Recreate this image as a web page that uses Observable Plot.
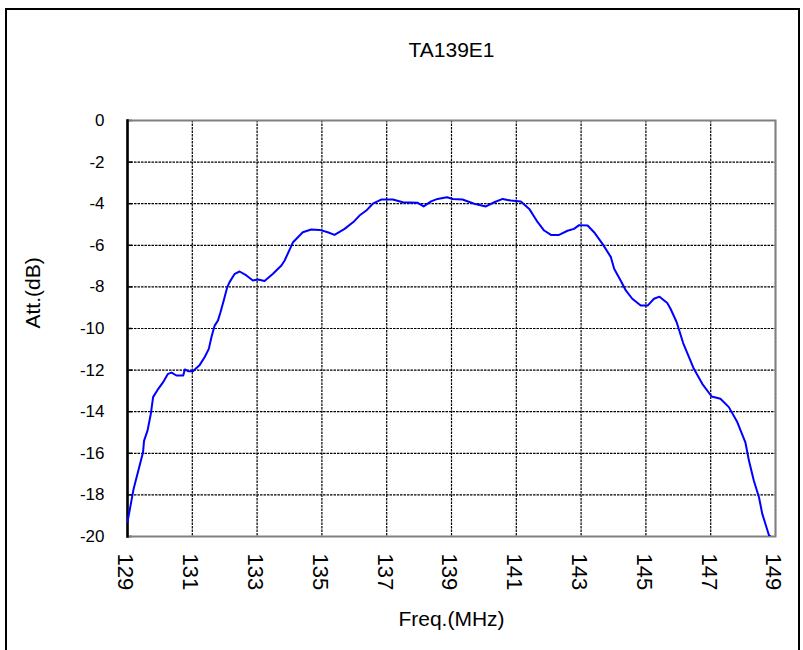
<!DOCTYPE html>
<html><head><meta charset="utf-8">
<script src="https://cdn.jsdelivr.net/npm/d3@7"></script>
<script src="https://cdn.jsdelivr.net/npm/@observablehq/plot@0.6"></script>
<style>
body{margin:0;background:#fff;}
#wrap{position:relative;width:803px;height:650px;overflow:hidden;font-family:"Liberation Sans",Arial,sans-serif;}
#border{position:absolute;left:5px;top:8px;width:795px;height:660px;border:2px solid #000;box-sizing:border-box;pointer-events:none;}
#wrap svg{position:absolute;left:0;top:0;}
</style></head><body><div id="wrap"><div id="border"></div></div>
<script>
const titleText = "TA139E1";
const xLabel = "Freq.(MHz)";
const yLabel = "Att.(dB)";
const xTicks = [129, 131, 133, 135, 137, 139, 141, 143, 145, 147, 149];
const yTicks = [0, -2, -4, -6, -8, -10, -12, -14, -16, -18, -20];
const freq = [129.00,129.19,129.48,129.51,129.62,129.72,129.79,129.95,130.10,130.25,130.36,130.51,130.72,130.77,130.87,131.02,131.23,131.38,131.51,131.59,131.69,131.79,131.87,131.97,132.08,132.15,132.31,132.46,132.67,132.87,133.03,133.23,133.49,133.75,133.85,134.11,134.41,134.67,134.93,135.18,135.39,135.70,136.00,136.16,136.37,136.57,136.83,137.19,137.50,137.96,138.14,138.37,138.57,138.86,139.04,139.34,139.70,140.06,140.32,140.58,140.83,141.14,141.40,141.66,141.86,142.07,142.32,142.58,142.78,142.94,143.20,143.40,143.66,143.92,144.02,144.22,144.38,144.58,144.84,145.06,145.25,145.42,145.66,145.76,145.95,146.15,146.48,146.74,147.03,147.30,147.56,147.82,148.07,148.18,148.33,148.49,148.59,148.80,148.85];
const att = [-19.3,-17.7,-15.95,-15.4,-14.9,-14.1,-13.3,-12.9,-12.58,-12.18,-12.12,-12.26,-12.26,-11.97,-12.05,-12.05,-11.75,-11.38,-10.98,-10.42,-9.86,-9.62,-9.22,-8.65,-8.01,-7.77,-7.37,-7.26,-7.45,-7.69,-7.64,-7.72,-7.37,-6.97,-6.73,-5.85,-5.37,-5.24,-5.26,-5.37,-5.5,-5.21,-4.84,-4.57,-4.33,-4.0,-3.8,-3.8,-3.93,-3.96,-4.13,-3.89,-3.77,-3.69,-3.77,-3.80,-4.0,-4.13,-3.93,-3.77,-3.85,-3.89,-4.25,-4.89,-5.29,-5.5,-5.5,-5.3,-5.21,-5.03,-5.05,-5.37,-5.93,-6.57,-7.13,-7.69,-8.17,-8.57,-8.89,-8.89,-8.57,-8.47,-8.77,-9.05,-9.70,-10.7,-11.94,-12.66,-13.27,-13.38,-13.78,-14.50,-15.47,-16.35,-17.31,-18.11,-18.9,-19.95,-20.0];
const data = freq.map((f, i) => ({f, a: att[i]}));

const W = 803, H = 650, ML = 127, MR = 28, MT = 120, MB = 114;
const plotW = W - ML - MR;

const chart = Plot.plot({
  width: W, height: H,
  marginLeft: ML, marginRight: MR, marginTop: MT, marginBottom: MB,
  style: {fontFamily: "'Liberation Sans', Arial, sans-serif", fontSize: "16px", color: "#000", background: "transparent", overflow: "visible"},
  x: {domain: [129, 149]},
  y: {domain: [-20, 0]},
  marks: [
    Plot.gridX(xTicks, {stroke: "#000", strokeOpacity: 1, strokeDasharray: "2.5,1", strokeWidth: 1.2}),
    Plot.gridY(yTicks, {stroke: "#000", strokeOpacity: 1, strokeDasharray: "2.5,1", strokeWidth: 1.2}),
    Plot.ruleY(yTicks, {stroke: "#000", strokeWidth: 1.5, insetRight: plotW - 5}),
    Plot.frame({stroke: "#808080", strokeWidth: 2}),
    Plot.frame({anchor: "left", stroke: "#000", strokeWidth: 2.5}),
    Plot.axisX(xTicks, {tickRotate: 90, tickSize: 0, tickPadding: 17, label: null, fontSize: 22, dx: -2, tickFormat: d => String(d)}),
    Plot.axisY(yTicks, {tickSize: 0, tickPadding: 23, label: null, fontSize: 17, tickFormat: d => String(d)}),
    Plot.line(data, {x: "f", y: "a", stroke: "#0000ff", strokeWidth: 2, clip: true}),
    Plot.text([titleText], {frameAnchor: "top", dy: -78, fontSize: 21}),
    Plot.text([xLabel], {frameAnchor: "bottom", dy: 89, fontSize: 21}),
    Plot.text([yLabel], {frameAnchor: "left", rotate: -90, dx: -94, fontSize: 21})
  ]
});
document.getElementById("wrap").appendChild(chart);
</script>
</body></html>
